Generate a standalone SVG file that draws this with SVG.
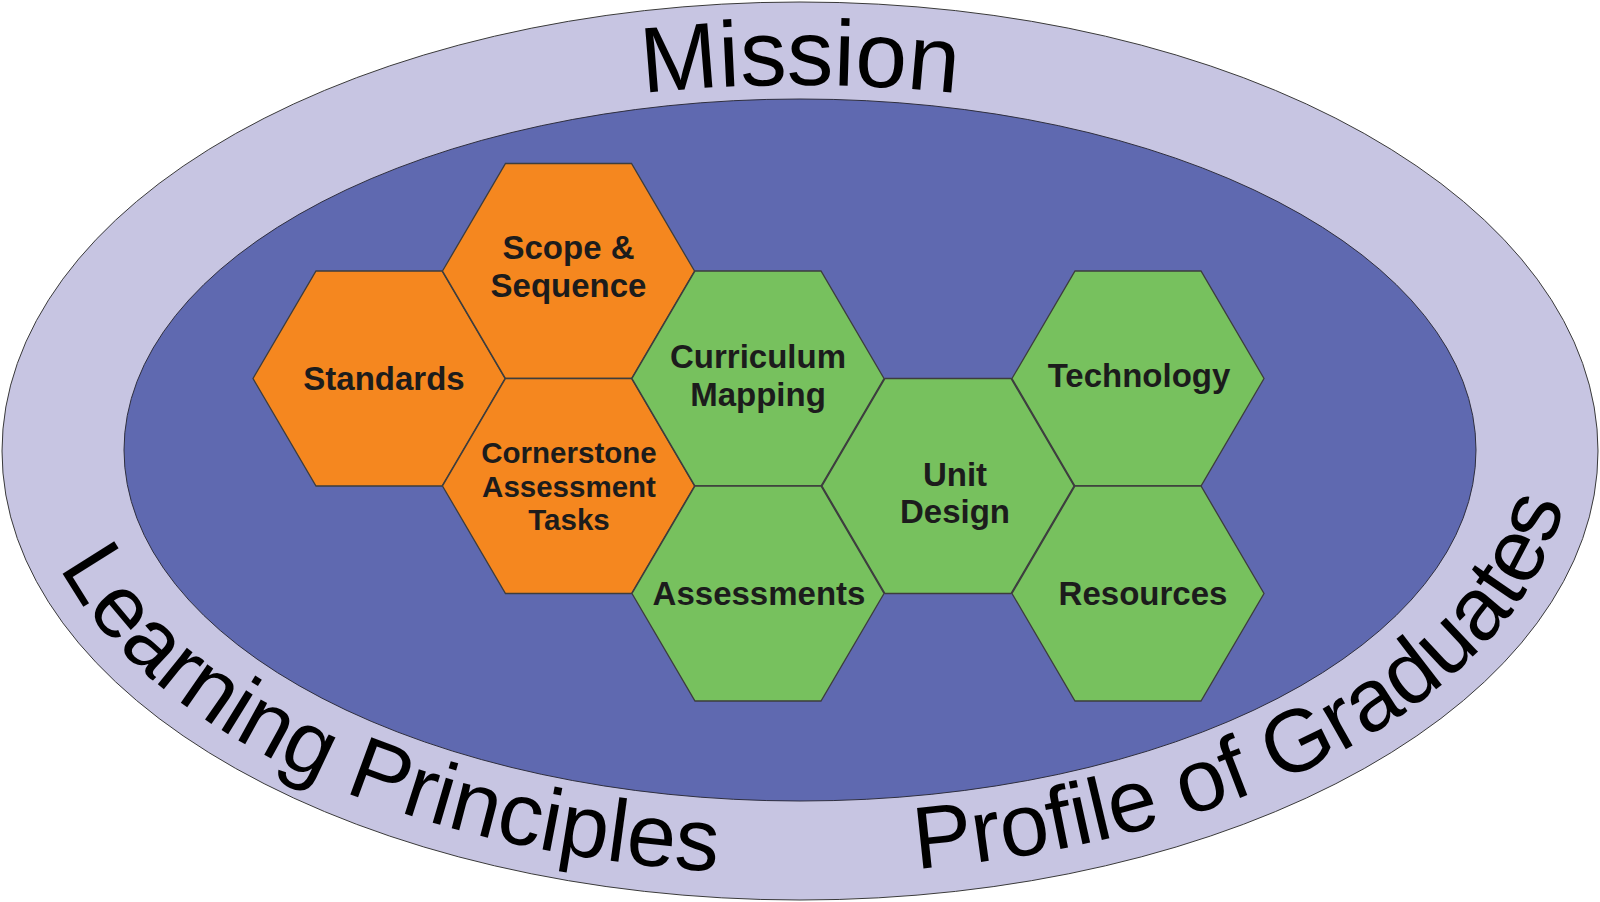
<svg xmlns="http://www.w3.org/2000/svg" xmlns:xlink="http://www.w3.org/1999/xlink" width="1600" height="902" viewBox="0 0 1600 902">
<style>
.ring{fill:#C7C5E2;stroke:#3a3a3a;stroke-width:1}
.core{fill:#5F69B0;stroke:#2e2e3e;stroke-width:1}
.orange{fill:#F5871F;stroke:#3d3d3d;stroke-width:1.3}
.green{fill:#77C15E;stroke:#3d3d3d;stroke-width:1.3}
.lbl{font-family:"Liberation Sans",Arial,sans-serif;font-weight:bold;font-size:33px;fill:#1c1c1c;text-anchor:middle}
.lbl.sm{font-size:29.5px}
.arc{font-family:"Liberation Sans",Arial,sans-serif;font-size:88.5px;fill:#000}
</style>
<defs>
<path id="hex" d="M-126,0 L-63,-107.5 L63,-107.5 L126,0 L63,107.5 L-63,107.5 Z"/>
<path id="topArc" d="M60,451 A740,366 0 0 1 1540,451"/>
<path id="botArc" d="M30,451 A770,423 0 0 0 1570,451"/>
</defs>
<rect width="1600" height="902" fill="#ffffff"/>
<g id="ring">
<ellipse class="ring" cx="800" cy="451" rx="798" ry="449"/>
<ellipse class="core" cx="800" cy="450" rx="676" ry="351"/>
</g>
<g id="ring-labels">
<text class="arc" style="font-size:93px"><textPath href="#topArc" startOffset="50%" text-anchor="middle">Mission</textPath></text>
<text class="arc"><textPath href="#botArc" startOffset="121">Learning Principles</textPath></text>
<text class="arc"><textPath href="#botArc" startOffset="1073">Profile of Graduates</textPath></text>
</g>
<g id="connectors"></g>
<g id="standards">
<use href="#hex" class="orange" transform="translate(379,378.5)"/>
<text class="lbl" x="384" y="390">Standards</text>
</g>
<g id="scope-sequence">
<use href="#hex" class="orange" transform="translate(568.5,271)"/>
<text class="lbl" x="568.5" y="259">Scope &amp;</text>
<text class="lbl" x="568.5" y="297">Sequence</text>
</g>
<g id="cornerstone">
<use href="#hex" class="orange" transform="translate(568.5,486)"/>
<text class="lbl sm" x="569" y="463">Cornerstone</text>
<text class="lbl sm" x="569" y="497">Assessment</text>
<text class="lbl sm" x="569" y="530">Tasks</text>
</g>
<g id="curriculum-mapping">
<use href="#hex" class="green" transform="translate(758,378.5)"/>
<text class="lbl" x="758" y="368">Curriculum</text>
<text class="lbl" x="758" y="406">Mapping</text>
</g>
<g id="assessments">
<use href="#hex" class="green" transform="translate(758,593.5)"/>
<text class="lbl" x="759" y="605">Assessments</text>
</g>
<g id="unit-design">
<use href="#hex" class="green" transform="translate(948,486)"/>
<text class="lbl" x="955" y="486">Unit</text>
<text class="lbl" x="955" y="523">Design</text>
</g>
<g id="technology">
<use href="#hex" class="green" transform="translate(1138,378.5)"/>
<text class="lbl" x="1139" y="387">Technology</text>
</g>
<g id="resources">
<use href="#hex" class="green" transform="translate(1138,593.5)"/>
<text class="lbl" x="1143" y="605">Resources</text>
</g>
</svg>
